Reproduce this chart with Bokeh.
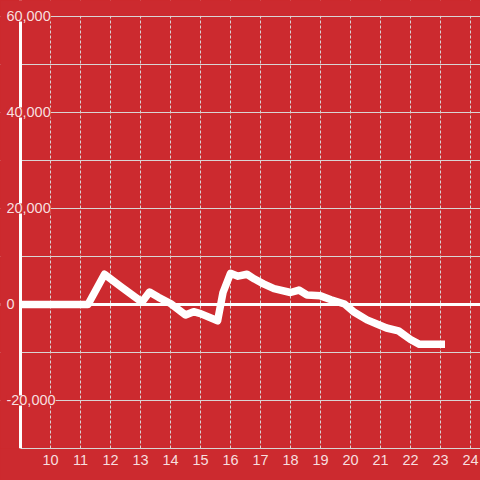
from bokeh.plotting import figure
from bokeh.models import Range1d, FixedTicker, Span, Label, BoxAnnotation, GlobalInlineStyleSheet
from bokeh.embed import file_html
from bokeh.resources import INLINE

# ---- data ----
hours = [9.0, 11.25, 11.8, 12.35, 13.05, 13.3, 13.6, 14.0, 14.5, 14.77, 15.0, 15.57,
         15.75, 16.0, 16.25, 16.55, 16.8, 17.1, 17.45, 18.0, 18.28, 18.55, 19.0, 19.35,
         19.8, 20.1, 20.55, 20.9, 21.2, 21.6, 22.0, 22.3, 23.15]
values = [0, 0, 6300, 3700, 500, 2600, 1500, 200, -2200, -1500, -1900, -3400,
          2500, 6500, 5900, 6300, 5300, 4300, 3300, 2500, 3000, 2000, 1800, 1000,
          100, -1500, -3200, -4100, -4900, -5500, -7300, -8300, -8300]

x_ticks = list(range(10, 25))
y_label_values = [-20000, 0, 20000, 40000, 60000]
y_label_text = ["-20,000", "0", "20,000", "40,000", "60,000"]
y_grid_values = [-20000, -10000, 10000, 20000, 30000, 40000, 50000, 60000]

X_START, X_END = 9.0, 24.333      # axis extent
Y_MIN, Y_MAX = -30000, 60000

BG = "#cc2a2f"
TXT = "#f7dfdf"
GRID = "#d9d4d4"
FONT = "Liberation Sans"

p = figure(width=480, height=480, output_backend="svg", toolbar_location=None,
           x_range=Range1d(8.3333, X_END), y_range=Range1d(Y_MIN, 63333.3),
           min_border_left=0, min_border_right=0, min_border_top=0, min_border_bottom=32)
p.background_fill_color = BG
p.border_fill_color = BG
p.outline_line_color = None
p.stylesheets = [GlobalInlineStyleSheet(css="body { background-color: %s; }" % BG)]

# x axis
p.xaxis.ticker = FixedTicker(ticks=x_ticks)
p.xaxis.bounds = (X_START, X_END)
p.xaxis.axis_line_color = GRID
p.xaxis.axis_line_width = 1
p.xaxis.major_tick_line_color = None
p.xaxis.minor_tick_line_color = None
p.xaxis.major_tick_out = 0
p.xaxis.major_tick_in = 0
p.xaxis.minor_tick_out = 0
p.xaxis.major_label_text_color = TXT
p.xaxis.major_label_text_font = FONT
p.xaxis.major_label_text_font_size = "14.5px"
p.xaxis.major_label_standoff = 6
p.yaxis.visible = False

# grids
p.xgrid.ticker = FixedTicker(ticks=x_ticks)
p.xgrid.grid_line_color = GRID
p.xgrid.grid_line_width = 1
p.xgrid.grid_line_dash = "3 2"
p.ygrid.ticker = FixedTicker(ticks=y_grid_values)
p.ygrid.grid_line_color = GRID
p.ygrid.grid_line_width = 1

# zero line
p.add_layout(Span(location=0, dimension="width", line_color="white", line_width=3, level="underlay"))
# keep the area left of the y axis clean
p.add_layout(BoxAnnotation(right=X_START, fill_color=BG, fill_alpha=1, line_color=None, level="underlay"))

# data line
p.line(hours, values, line_color="white", line_width=7.5, line_join="round", line_cap="butt")

# y axis line
p.add_layout(Span(location=X_START, dimension="height", line_color="white", line_width=3))
# keep the area above the top gridline clean
p.add_layout(BoxAnnotation(bottom=Y_MAX + 150, fill_color=BG, fill_alpha=1, line_color=None))

# y labels
for yv, txt in zip(y_label_values, y_label_text):
    p.add_layout(Label(x=8.53, y=yv, text=txt,
                       text_align="left", text_baseline="middle", text_color=TXT,
                       text_font=FONT, text_font_size="14.5px",
                       background_fill_color=BG))

open("out.html", "w").write(file_html(p, INLINE))
